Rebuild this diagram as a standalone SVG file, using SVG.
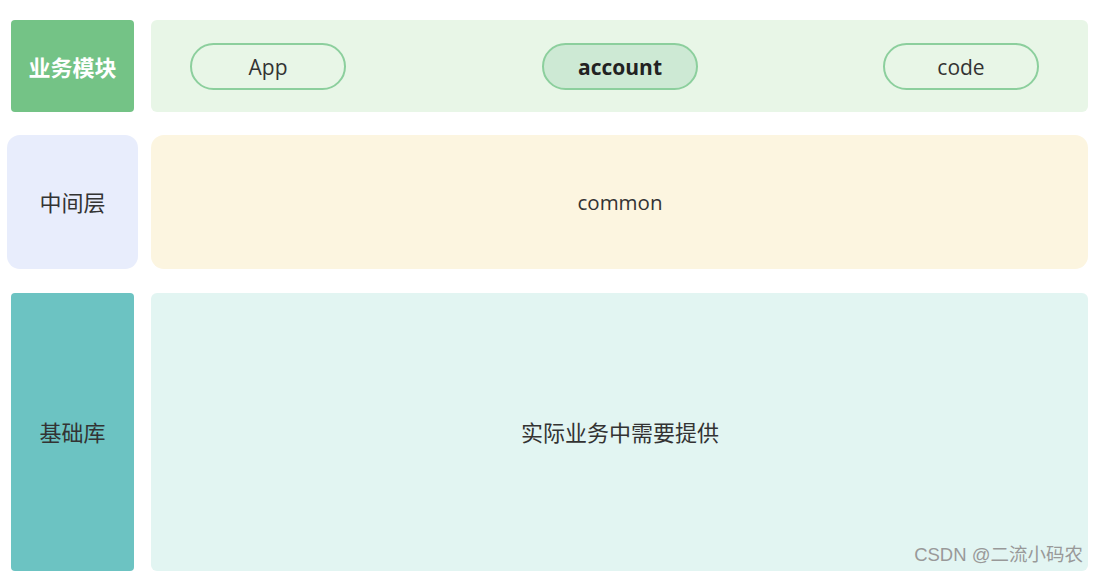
<svg xmlns="http://www.w3.org/2000/svg" width="1099" height="574" viewBox="0 0 1099 574">
<style>
.t{font-family:"Open Sans","Noto Sans","Noto Sans CJK SC",sans-serif;font-size:22px;fill:#333;text-anchor:middle;dominant-baseline:central}
.l{font-size:21px}
.pill{stroke:#8ccf9d;stroke-width:2}
</style>
<rect width="1099" height="574" fill="#fff"/>
<g id="label-biz">
<rect x="11" y="20" width="123" height="92" rx="4" fill="#74c386"/>
<text class="t" x="72.5" y="67" style="fill:#fff;font-weight:bold">业务模块</text>
</g>
<g id="panel-biz">
<rect x="151" y="20" width="937" height="92" rx="6" fill="#e8f6e7"/>
</g>
<g id="node-app">
<rect class="pill" x="191" y="44" width="154" height="45" rx="22.5" fill="none"/>
<text class="t l" x="268" y="66.5">App</text>
</g>
<g id="node-account">
<rect class="pill" x="543" y="44" width="154" height="45" rx="22.5" fill="#cde9d4"/>
<text class="t l" x="620" y="66.5" style="font-weight:bold;fill:#222">account</text>
</g>
<g id="node-code">
<rect class="pill" x="884" y="44" width="154" height="45" rx="22.5" fill="none"/>
<text class="t l" x="961" y="66.5">code</text>
</g>
<g id="label-mid">
<rect x="7" y="135" width="131" height="134" rx="13" fill="#e8edfc"/>
<text class="t" x="72.5" y="202">中间层</text>
</g>
<g id="node-common">
<rect x="151" y="135" width="937" height="134" rx="13" fill="#fcf5e0"/>
<text class="t" x="620" y="202" style="font-size:20.5px">common</text>
</g>
<g id="label-base">
<rect x="11" y="293" width="123" height="278" rx="4" fill="#6cc3c2"/>
<text class="t" x="72.5" y="432">基础库</text>
</g>
<g id="node-base">
<rect x="151" y="293" width="937" height="278" rx="6" fill="#e2f5f2"/>
<text class="t" x="620" y="432">实际业务中需要提供</text>
</g>
<g id="connectors"></g>
<text x="1083" y="561" style="font-family:'Liberation Sans','Noto Sans CJK SC',sans-serif;font-size:18.5px;fill:#999;text-anchor:end">CSDN @二流小码农</text>
</svg>
